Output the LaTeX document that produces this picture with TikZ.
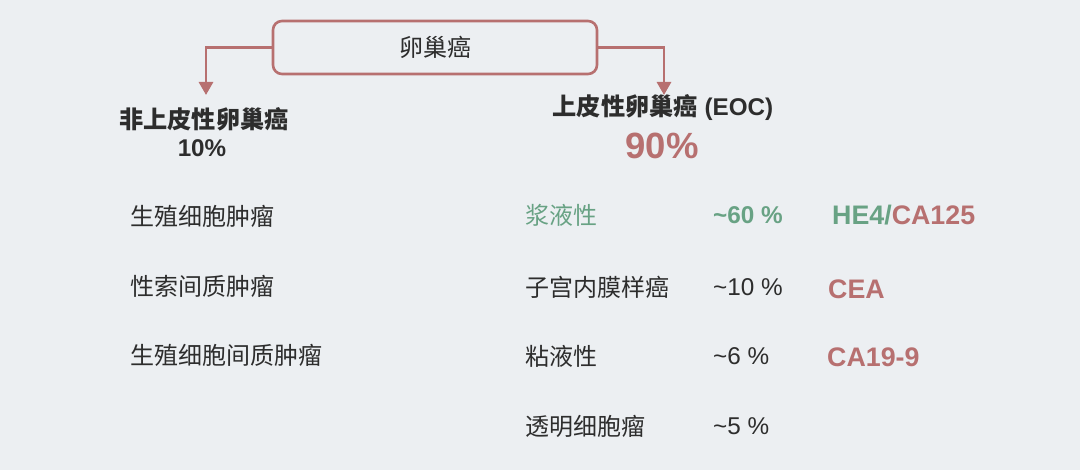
\documentclass[tikz,border=0pt]{standalone}
\usepackage{fontspec}
\setmainfont{Liberation Sans}
\newfontfamily\cjk{Noto Sans CJK SC}
\usetikzlibrary{arrows.meta}
\definecolor{bg}{RGB}{236,239,242}
\definecolor{rust}{RGB}{183,112,112}
\definecolor{sage}{RGB}{104,162,132}
\definecolor{ink}{RGB}{45,45,45}
\tikzset{
  rootbox/.style={draw=rust,line width=2.6pt,rounded corners=9pt,minimum width=324pt,minimum height=53pt,inner sep=0pt,text=ink,font=\cjk\fontsize{24}{28}\selectfont},
  conn/.style={draw=rust,line width=2.8pt,-{Triangle[length=13pt,width=14pt]}},
  title/.style={inner sep=0pt,text=ink,font=\bfseries\fontsize{24.2}{29}\selectfont},
  item/.style={inner sep=0pt,anchor=west,text=ink,font=\cjk\fontsize{24}{28}\selectfont},
  pct/.style={inner sep=0pt,anchor=west,text=ink,font=\fontsize{24.3}{29}\selectfont},
  marker/.style={inner sep=0pt,anchor=west,text=rust,font=\bfseries\fontsize{26.8}{32}\selectfont}
}
\begin{document}
\begin{tikzpicture}[x=1pt,y=-1pt]
\fill[bg] (0,0) rectangle (1080,470);
\useasboundingbox (0,0) rectangle (1080,470);
\node[rootbox] (root) at (435,47.5) {卵巢癌};
\coordinate (ltip) at (206,95);
\coordinate (rtip) at (664,95);
\draw[conn] (root.west) -| (ltip);
\draw[conn] (root.east) -| (rtip);
\node[title] (nonepi) at (204,119) {{\cjk 非上皮性卵巢癌}};
\node[title] (nonepipct) at (202,148) {10\%};
\node[title] (epi) at (663,108) {{\cjk 上皮性卵巢癌} (EOC)};
\node[title,text=rust,font=\bfseries\fontsize{36.5}{42}\selectfont] (epipct) at (662,146) {90\%};
\node[item] (l1) at (130,216) {生殖细胞肿瘤};
\node[item] (l2) at (130,286) {性索间质肿瘤};
\node[item] (l3) at (130,355) {生殖细胞间质肿瘤};
\node[item,text=sage] (r1) at (525,215) {浆液性};
\node[item] (r2) at (525,287) {子宫内膜样癌};
\node[item] (r3) at (525,356) {粘液性};
\node[item] (r4) at (525,426) {透明细胞瘤};
\node[pct,text=sage,font=\bfseries\fontsize{24.3}{29}\selectfont] (p1) at (713,215) {\textasciitilde60 \%};
\node[pct] (p2) at (713,287) {\textasciitilde10 \%};
\node[pct] (p3) at (713,356) {\textasciitilde6 \%};
\node[pct] (p4) at (713,426) {\textasciitilde5 \%};
\node[marker] (m1) at (832,215) {\textcolor{sage}{HE4/}CA125};
\node[marker] (m2) at (828,289) {CEA};
\node[marker] (m3) at (827,357) {CA19-9};
\end{tikzpicture}
\end{document}
